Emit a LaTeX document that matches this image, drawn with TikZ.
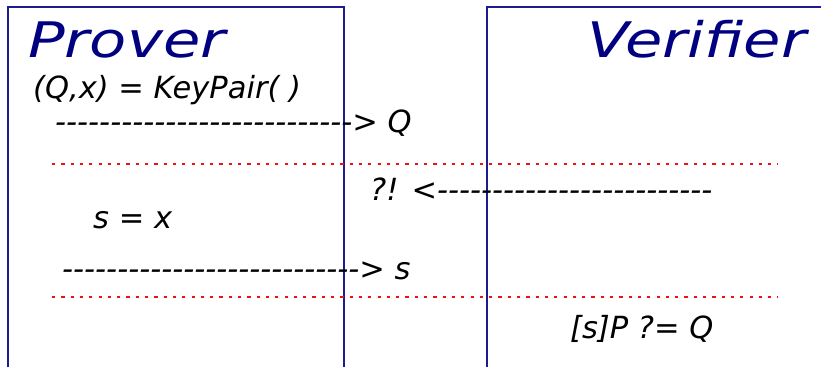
\documentclass[tikz,border=0pt]{standalone}
\usepackage{fontspec}
\setmainfont{DejaVu Sans}
\usepackage{tikz}
\usetikzlibrary{positioning}
\definecolor{navy}{HTML}{000080}
\definecolor{boxblue}{HTML}{1C1C8E}
\definecolor{sepred}{HTML}{F01010}

\begin{document}
\begin{tikzpicture}[x=1pt,y=-1pt,
    txt/.style={anchor=base west,inner sep=0pt,font=\fontsize{30.5}{36}\selectfont\itshape},
    ttl/.style={anchor=base west,inner sep=0pt,text=navy,xscale=1.24,font=\fontsize{49}{56}\selectfont\itshape},
    sep/.style={sepred,line width=2.5pt,dash pattern=on 3.2pt off 6.1pt}]
        \useasboundingbox (0,0) rectangle (821,367);
        % the two parties
        \draw[boxblue,line width=2.2pt] (8,367) -- (8,7) -- (344,7) -- (344,367);
        \draw[boxblue,line width=2.2pt] (487,367) -- (487,7) -- (821,7);
        \node[ttl] (prover) at (28,57) {Prover};
        \node[ttl] (verifier) at (587,57) {Verifier};
        % messages
        \node[txt] (keys) at (33,98) {(Q,x) = KeyPair( )};
        \node[txt] (sendq) at (55,132) {-{}-{}-{}-{}-{}-{}-{}-{}-{}-{}-{}-{}-{}-{}-{}-{}-{}-{}-{}-{}-{}-{}-{}-{}-{}-{}-{}> Q};
        \coordinate (s1a) at (52,164);
        \coordinate (s1b) at (778,164);
        \draw[sep] (s1a) -- (s1b);
        \node[txt] (chal) at (370,200) {?! <-{}-{}-{}-{}-{}-{}-{}-{}-{}-{}-{}-{}-{}-{}-{}-{}-{}-{}-{}-{}-{}-{}-{}-{}-};
        \node[txt] (resp) at (93,228) {s = x};
        \node[txt] (sends) at (62,279) {-{}-{}-{}-{}-{}-{}-{}-{}-{}-{}-{}-{}-{}-{}-{}-{}-{}-{}-{}-{}-{}-{}-{}-{}-{}-{}-{}> s};
        \coordinate (s2a) at (52,297);
        \coordinate (s2b) at (778,297);
        \draw[sep] (s2a) -- (s2b);
        \node[txt] (check) at (570,338) {[s]P ?= Q};
      \end{tikzpicture}
\end{document}
